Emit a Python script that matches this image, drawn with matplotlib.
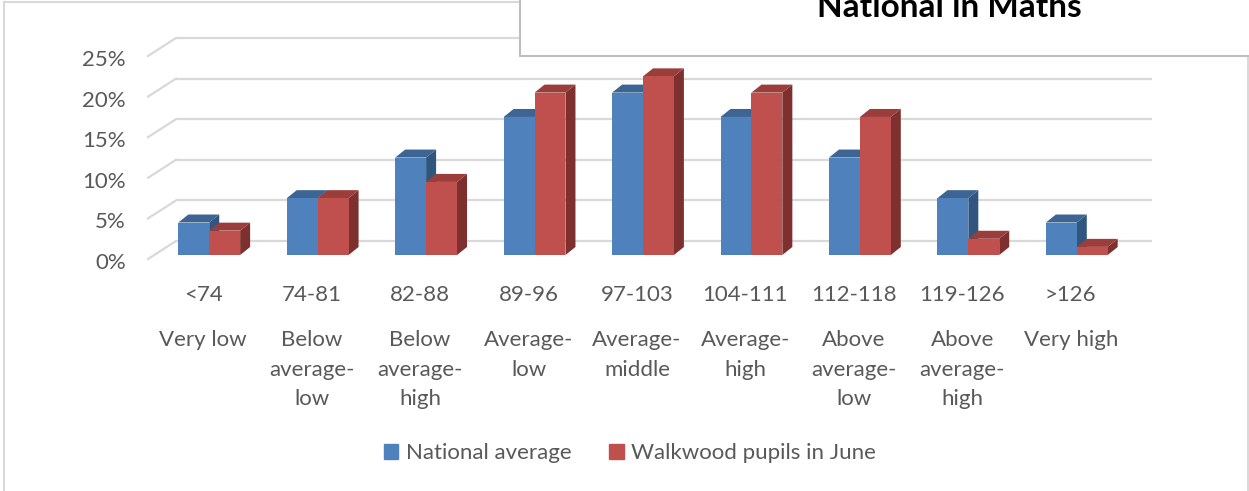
import matplotlib
matplotlib.use("Agg")
import matplotlib.pyplot as plt
from matplotlib.patches import Polygon, Rectangle, Patch
from matplotlib.lines import Line2D
from matplotlib.transforms import offset_copy

# data
ranges = ["<74", "74-81", "82-88", "89-96", "97-103", "104-111", "112-118", "119-126", ">126"]
bands = ["Very low", "Below\naverage-\nlow", "Below\naverage-\nhigh", "Average-\nlow", "Average-\nmiddle",
         "Average-\nhigh", "Above\naverage-\nlow", "Above\naverage-\nhigh", "Very high"]
national = [4, 7, 12, 17, 20, 17, 12, 7, 4]
walkwood = [3, 7, 9, 20, 22, 20, 17, 2, 1]
series_names = ["National average", "Walkwood pupils in June"]
yticks = [0, 5, 10, 15, 20, 25]

plt.rcParams['font.family'] = ['Lato', 'DejaVu Sans']
txt = '#595959'
fs = 16

W, H = 1249, 491
fig = plt.figure(figsize=(W / 100, H / 100), dpi=100)
ax = fig.add_axes([155 / W, (H - 255) / H, 976 / W, 203 / H])
ax.set_xlim(-0.5, 8.5)
ax.set_ylim(0, 25)
ax.axis('off')

sx = 976 / 9
sy = 203 / 25
def dx(p):
    return p / sx
def dy(p):
    return p / sy

# back wall gridlines and left wall
for v in yticks:
    ax.plot([-0.5 + dx(21), 8.5 + dx(21)], [v + dy(14)] * 2, color='#d9d9d9', lw=1.6,
            clip_on=False, zorder=0, solid_capstyle='butt')
    ax.plot([-0.5 + dx(-7), -0.5 + dx(21)], [v + dy(-4), v + dy(14)], color='#d9d9d9', lw=1.6,
            clip_on=False, zorder=0)
    ax.text(-0.5, v, f'{v}%', transform=offset_copy(ax.transData, fig, x=-29, y=-8, units='dots'),
            ha='right', va='center', fontsize=fs, color=txt)

w = 0.285
ddx, ddy = dx(10), dy(8)
cols = [('#4f81bd', '#3c6594', '#30557f'), ('#c0504d', '#9b3d3b', '#7d302e')]
z = 2
for i in range(len(ranges)):
    for k, (vals, x0) in enumerate([(national, i - w), (walkwood, i)]):
        h = vals[i]
        face, top, side = cols[k]
        x1 = x0 + w
        ax.add_patch(Polygon([(x1, 0), (x1, h), (x1 + ddx, h + ddy), (x1 + ddx, ddy)],
                             closed=True, fc=side, ec='none', clip_on=False, zorder=z))
        ax.add_patch(Polygon([(x0, h), (x1, h), (x1 + ddx, h + ddy), (x0 + ddx, h + ddy)],
                             closed=True, fc=top, ec='none', clip_on=False, zorder=z))
        ax.bar(x0, h, w, align='edge', color=face, clip_on=False, zorder=z)
        z += 1

# category labels
for i in range(len(ranges)):
    ax.text(i, 0, ranges[i], transform=offset_copy(ax.transData, fig, x=-6, y=-46, units='dots'),
            ha='center', va='baseline', fontsize=fs, color=txt)
    for j, line in enumerate(bands[i].split('\n')):
        ax.text(i, 0, line, transform=offset_copy(ax.transData, fig, x=-6, y=-91 - 29.6 * j, units='dots'),
                ha='center', va='baseline', fontsize=fs, color=txt)

# legend
handles = [Patch(color=cols[0][0]), Patch(color=cols[1][0])]
fig.legend(handles, series_names, loc='center', bbox_to_anchor=(630 / W, (H - 453) / H), ncol=2,
           frameon=False, fontsize=fs, labelcolor=txt, handlelength=0.65, handleheight=0.65,
           handletextpad=0.35, columnspacing=1.7)

# outer border
bc = '#d9d9d9'
fig.add_artist(Line2D([4 / W, 4 / W], [0, (H - 2) / H], color=bc, lw=1.5))
fig.add_artist(Line2D([4 / W, 520 / W], [(H - 2) / H] * 2, color=bc, lw=1.5))
fig.add_artist(Line2D([1248 / W, 1248 / W], [0, (H - 56) / H], color=bc, lw=1.5))

# title box, cut off at the top (as in the reference)
fig.add_artist(Rectangle((520 / W, (H - 56) / H), 740 / W, 80 / H, fc='white', ec='#bfbfbf', lw=1.5, zorder=5))
fig.text(949 / W, (H - 17) / H, "National in Maths", ha='center', va='baseline', fontsize=24,
         fontweight='bold', color='black', zorder=6)

fig.savefig('out.png', dpi=100)
